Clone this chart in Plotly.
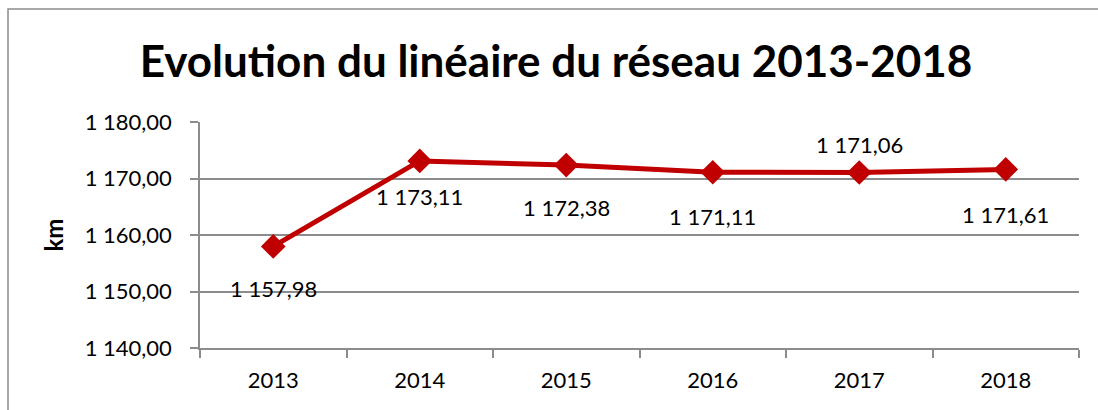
import plotly.graph_objects as go

years = ["2013", "2014", "2015", "2016", "2017", "2018"]
lengths_km = [1157.98, 1173.11, 1172.38, 1171.11, 1171.06, 1171.61]
label_shift = [-42, -36, -42, -44, 28, -45]

title_text = "Evolution du linéaire du réseau 2013-2018"
y_title = "km"

FONT = "Lato, sans-serif"
RED = "#C00000"
GRID = "#8C8C8C"

def fr(v):
    s = f"{v:,.2f}"
    return s.replace(",", " ").replace(".", ",")

fig = go.Figure()
fig.add_trace(go.Scatter(
    x=years, y=lengths_km, mode="lines+markers",
    line=dict(color=RED, width=5),
    marker=dict(symbol="diamond", size=19, color=RED),
    hoverinfo="skip", showlegend=False,
))

annotations = []
for i, (y, s) in enumerate(zip(lengths_km, label_shift)):
    annotations.append(dict(x=i, y=y, xref="x", yref="y", text=fr(y),
                            showarrow=False, yshift=s,
                            font=dict(family=FONT, size=22, color="black")))

L, R, T, B = 200, 19, 122, 62
W, H = 1098, 410
pw, ph = W - L - R, H - T - B

def px(xp):
    return (xp - L) / pw

def py(yp):
    return (H - B - yp) / ph

shapes = [dict(type="rect", xref="paper", yref="paper",
               x0=px(8), x1=px(1100), y0=py(412), y1=py(9),
               line=dict(color=GRID, width=1.5), layer="below")]

fig.update_layout(
    width=W, height=H,
    margin=dict(l=L, r=R, t=T, b=B),
    paper_bgcolor="white", plot_bgcolor="white",
    separators=", ",
    font=dict(family=FONT, size=22, color="black"),
    annotations=annotations,
    shapes=shapes,
    title=dict(text=f"<b>{title_text}</b>", x=556 / W, xanchor="center", xref="container",
               y=1 - 62 / H, yanchor="middle",
               font=dict(family=FONT, size=44, color="black")),
    xaxis=dict(type="category", range=[-0.5, 5.5], tickson="boundaries",
               ticks="outside", ticklen=8, tickcolor=GRID, tickwidth=1.5,
               ticklabelstandoff=12,
               showline=True, linecolor=GRID, linewidth=1.5, showgrid=False,
               tickfont=dict(family=FONT, size=22, color="black")),
    yaxis=dict(range=[1140, 1180], dtick=10, tickformat=",.2f",
               ticks="outside", ticklen=8, tickcolor=GRID, tickwidth=1.5,
               ticklabelstandoff=14,
               showline=True, linecolor=GRID, linewidth=1.5,
               showgrid=True, gridcolor=GRID, gridwidth=1.5, zeroline=False,
               tickfont=dict(family=FONT, size=22, color="black"),
               title=dict(text=f"<b>{y_title}</b>", standoff=14,
                          font=dict(family=FONT, size=24, color="black"))),
)

fig.write_html("out.html")
